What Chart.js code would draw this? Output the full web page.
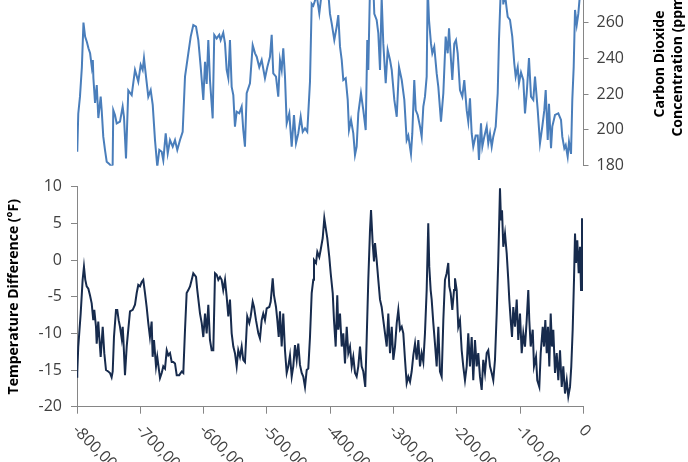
<!DOCTYPE html>
<html>
<head>
<meta charset="utf-8">
<script src="https://cdn.jsdelivr.net/npm/chart.js@4.4.1/dist/chart.umd.min.js"></script>
<style>
  html, body { margin: 0; padding: 0; background: #fff; }
  body { width: 688px; height: 462px; overflow: hidden; position: relative; }
  #co2Chart { position: absolute; left: 0; top: -80px; }
  #tempChart { position: absolute; left: 0; top: 160px; }
</style>
</head>
<body>
<canvas id="co2Chart" width="760" height="270"></canvas>
<canvas id="tempChart" width="688" height="302"></canvas>
<script>
// ── Data (years before present) ─────────────────────────────────────────────
const yearTicks = [-800000, -700000, -600000, -500000, -400000, -300000, -200000, -100000, 0];
const tempTicks = [-20, -15, -10, -5, 0, 5, 10];
const co2Ticks  = [180, 200, 220, 240, 260, 280, 300];

const co2Years = [
  -800000, -799600, -798000, -795300, -792300, -789800, -787200, -784400, -781900, -779300,
  -776600, -775000, -774100, -771500, -768800, -766300, -762600, -761000, -758500, -755800,
  -753100, -749000, -745300, -743700, -742700, -740000, -737300, -732100, -727900, -725800,
  -722600, -719000, -713600, -708400, -703200, -699400, -696300, -694200, -691000, -687400,
  -683600, -680400, -676800, -673200, -670000, -666200, -663700, -659900, -656700, -653100,
  -648800, -645200, -641600, -637300, -633100, -629400, -624200, -620400, -616300, -612000,
  -608400, -604600, -600500, -597800, -595200, -592600, -590000, -585700, -583200, -579400,
  -575300, -573100, -569000, -566200, -563600, -561000, -558400, -555700, -553100, -550500,
  -547800, -543700, -539900, -537400, -534700, -532000, -526800, -522500, -518800, -516200,
  -512100, -508300, -503100, -499400, -495200, -492500, -490000, -485700, -482100, -479400,
  -476700, -474200, -471500, -468800, -464700, -460900, -457300, -454100, -450500, -446700,
  -443500, -439900, -436300, -434700, -432000, -429300, -426800, -421400, -417300, -413000,
  -408300, -404000, -400400, -397700, -393600, -389800, -387300, -384600, -381900, -379400,
  -375600, -372400, -370400, -367200, -363600, -360900, -358300, -355700, -351500, -347800,
  -344000, -341500, -339900, -337200, -334500, -332000, -330400, -326700, -324100, -321400,
  -318800, -316200, -312400, -309300, -305600, -302900, -298800, -295000, -291400, -287100,
  -283000, -279300, -276700, -272500, -270400, -267300, -265000, -261900, -258200, -255600,
  -253000, -250400, -247700, -246100, -244000, -240900, -238800, -235700, -231900, -229300,
  -225100, -221400, -217700, -214500, -212400, -209300, -207200, -204100, -201400, -198700,
  -195100, -191400, -188300, -184500, -182000, -179300, -176600, -174100, -170300, -167100,
  -165100, -161900, -159800, -156700, -152900, -150400, -147700, -145000, -142500, -138700,
  -135500, -133500, -130300, -128000, -126700, -124100, -121500, -119700, -116100, -112500,
  -109300, -107100, -103900, -101900, -98700, -95100, -92400, -89700, -86100, -82900,
  -79300, -76600, -72300, -68700, -65100, -61900, -59700, -56500, -54500, -51300,
  -49300, -45000, -39800, -35500, -33500, -30300, -28100, -25000, -22900, -19700,
  -17700, -15500, -13400, -10700, -8200, -5500, 0
];
const co2Ppm = [
  190.6, 187.8, 209, 218.5, 235, 259.8, 252, 249, 245.5, 242.7,
  235, 239, 228.8, 215, 225, 206.6, 218.5, 211, 196.2, 188.8,
  182.2, 181, 179.4, 180.5, 211, 208.3, 203.6, 204.6, 213, 207.3,
  184, 222, 219.4, 233.4, 226.9, 236.2, 233.4, 240, 229.7, 218.5,
  222.2, 213.9, 194.3, 179.4, 188.8, 187.8, 183, 198, 186.9, 194.3,
  190.6, 194.3, 188.8, 194.3, 198.9, 229.7, 242.7, 252, 258.5, 257.6,
  250.1, 235, 216.7, 238, 225.6, 250.1, 227.8, 206.4, 253, 251,
  253, 250.1, 254.2, 248.1, 233.4, 228.8, 250.1, 224, 219.4, 201.8,
  210.1, 209.2, 213, 199.9, 190.6, 220.4, 226, 247.2, 242.7, 240.8,
  235, 239, 228.8, 235, 240.8, 253, 231.5, 229.7, 218.5, 239,
  233.4, 245.5, 229.7, 203.6, 209.2, 190.6, 208.3, 192.5, 198, 207.3,
  198.9, 200.8, 198.9, 209.2, 226.9, 270.3, 269.2, 275, 265, 278,
  283, 280, 264.7, 259.4, 250.1, 257.6, 264, 246.4, 239, 227.8,
  228.8, 216.7, 199.9, 205.5, 198, 186, 190.6, 209.2, 220.4, 211,
  199.9, 250.1, 233.4, 280, 296, 280, 264.7, 261.3, 253.9, 233.4,
  274, 248.1, 226, 244.6, 239, 233.4, 216.7, 207.3, 235, 227.8,
  216.7, 194.3, 196.8, 186.6, 198, 227.8, 211, 208.3, 201.8, 196.2,
  213, 218.5, 229.7, 280, 261.3, 248.1, 242.7, 246.4, 231.5, 224,
  204.6, 220.4, 252, 242.7, 256.7, 239, 227.8, 248.1, 250.1, 242.7,
  222.2, 218.5, 227.8, 211, 204.6, 217.6, 198, 190.6, 196.8, 196.8,
  183.2, 203.6, 190.6, 196.2, 201.8, 192.5, 198, 190.6, 196.2, 201.8,
  220.4, 250.1, 282, 287, 270, 276, 268, 263, 261.3, 252,
  237, 229.7, 235, 226, 232, 227.8, 209.2, 220.4, 240, 218.5,
  216.7, 229.7, 211, 192.5, 201.8, 211, 222.2, 194.3, 214.5, 189.7,
  201.8, 208.3, 209.2, 205.5, 196.2, 189.7, 191.5, 185, 193.4, 186.6,
  216.7, 235, 266.9, 258.5, 264.7, 276, 280
];

const tempYears = [
  -800000, -799600, -798000, -794200, -791100, -789000, -786900, -784700, -782100, -779500,
  -776800, -774300, -772700, -770000, -768900, -766400, -764800, -762600, -759400, -756900,
  -754200, -750600, -747900, -745300, -743600, -741600, -738400, -736400, -734200, -732100,
  -729400, -727800, -726900, -724200, -721500, -719000, -716300, -712000, -708400, -705700,
  -703200, -700500, -697800, -695300, -692600, -690000, -687400, -684800, -682100, -680500,
  -678400, -675200, -673200, -668900, -666200, -663700, -661000, -658300, -655800, -653100,
  -650400, -647900, -645200, -642500, -638500, -634600, -632100, -629400, -626800, -624200,
  -621500, -618800, -616300, -612000, -610000, -605700, -603000, -600500, -597800, -595200,
  -592600, -590000, -587300, -584700, -582000, -579400, -576800, -574100, -571500, -569000,
  -566200, -563600, -561000, -558400, -555700, -553100, -550500, -547800, -545300, -542600,
  -539900, -537400, -534700, -531100, -527900, -525700, -522500, -520400, -517300, -513600,
  -511000, -508300, -505800, -503100, -500400, -496300, -494100, -490900, -488900, -485700,
  -483600, -481400, -479400, -476700, -474200, -471500, -468800, -466300, -463600, -460900,
  -458400, -455700, -453000, -450500, -447800, -445100, -442600, -439900, -437200, -434700,
  -432000, -429300, -426800, -425700, -422500, -420400, -417300, -415100, -411900, -409400,
  -406700, -404700, -401500, -399300, -396100, -394100, -391400, -388900, -387300, -384600,
  -381900, -379400, -376700, -374000, -371500, -368800, -366100, -363600, -360900, -358300,
  -355700, -353000, -350400, -347800, -344700, -342500, -339900, -337200, -335600, -333000,
  -330900, -329300, -326700, -324100, -321400, -318800, -316200, -313500, -310800, -308300,
  -305600, -302900, -300400, -297700, -295000, -292500, -289800, -287100, -284600, -281900,
  -279300, -276700, -274000, -271400, -268800, -266100, -263500, -260900, -258200, -255600,
  -253000, -250400, -247700, -245200, -243600, -241400, -239800, -237200, -234600, -231900,
  -229300, -226700, -224000, -221400, -218800, -216100, -213600, -212000, -209800, -207200,
  -204500, -203000, -200300, -197800, -195100, -192400, -189900, -187200, -184500, -182000,
  -179300, -176600, -174100, -171400, -168700, -166200, -163500, -160800, -158300, -155600,
  -152900, -150400, -147700, -145000, -142500, -139800, -137100, -134600, -131900, -130300,
  -128700, -126700, -124000, -121300, -118800, -117200, -115000, -112900, -110900, -108200,
  -105500, -103000, -100300, -97600, -95100, -92400, -89700, -87200, -85600, -83400,
  -80200, -78200, -75000, -73000, -69800, -67600, -64400, -62400, -60300, -58100,
  -56100, -54000, -51800, -49800, -47700, -45000, -42300, -39800, -37100, -34400,
  -31900, -29200, -26500, -24000, -21300, -19300, -17100, -15000, -13400, -11800,
  -9800, -7600, -5500, -3900, -2400
];
const tempDiff = [
  -15.9, -15.4, -11.8, -7.3, -2.7, -0.9, -2.7, -3.6, -3.9, -4.8,
  -5.9, -8.2, -6.8, -9.1, -11.4, -8.4, -10.5, -13.2, -9.1, -12.7,
  -15.0, -15.2, -15.4, -16.0, -15.2, -10.5, -6.8, -6.8, -8.2, -9.1,
  -10.7, -9.1, -10.5, -15.7, -11.8, -9.5, -7.0, -6.8, -6.1, -4.5,
  -3.4, -3.6, -3.0, -2.7, -4.5, -6.4, -8.6, -10.5, -8.4, -13.2,
  -10.9, -14.5, -13.2, -16.1, -15.4, -14.5, -14.8, -12.3, -13.0, -12.7,
  -13.9, -13.9, -14.1, -15.7, -15.7, -15.2, -15.4, -9.5, -4.5, -4.1,
  -3.6, -2.7, -1.8, -2.3, -4.1, -7.3, -8.6, -10.5, -7.3, -10.0,
  -6.1, -10.9, -12.3, -12.3, -1.8, -2.0, -2.7, -2.3, -2.7, -4.1,
  -2.7, -5.0, -7.7, -5.4, -10.0, -11.8, -12.7, -14.5, -12.3, -13.2,
  -11.8, -13.6, -13.9, -7.7, -8.6, -7.7, -5.7, -6.4, -8.2, -10.0,
  -10.7, -8.2, -7.3, -8.2, -6.6, -6.4, -5.7, -2.5, -4.8, -6.4,
  -8.2, -10.5, -7.0, -11.8, -7.3, -12.3, -15.4, -14.5, -13.0, -15.9,
  -14.5, -11.6, -13.6, -11.4, -14.3, -15.4, -15.9, -17.3, -15.0, -14.8,
  -10.5, -4.5, -2.7, 0.0, -0.4, 1.1, 0.4, 1.4, 3.0, 5.7,
  4.1, 3.0, 0.4, -1.8, -4.5, -8.2, -11.8, -4.8, -9.5, -7.3,
  -11.8, -10.0, -14.1, -9.1, -12.7, -11.8, -14.5, -13.2, -15.4, -15.9,
  -14.5, -11.8, -14.5, -15.2, -17.3, -10.9, -2.7, 4.1, 6.8, 2.3,
  -0.2, 2.3, 0.0, -2.7, -5.4, -6.4, -8.2, -10.0, -11.8, -7.3,
  -12.7, -9.1, -13.6, -11.8, -8.6, -6.8, -9.5, -9.1, -10.0, -13.6,
  -16.8, -15.9, -16.6, -15.2, -13.0, -11.4, -13.6, -10.9, -14.5, -12.7,
  -13.9, -10.0, -4.1, 5.0, -0.9, -4.1, -5.4, -8.6, -11.4, -14.5,
  -9.1, -15.2, -15.9, -8.2, -2.7, -1.8, -0.4, -3.6, -4.5, -6.8,
  -4.1, -2.5, -4.1, -9.1, -8.2, -12.3, -14.5, -16.4, -14.5, -10.0,
  -14.5, -10.5, -16.4, -10.9, -14.5, -12.7, -15.9, -17.7, -13.6, -15.4,
  -12.7, -12.3, -14.5, -15.4, -16.4, -13.6, -7.3, 0.0, 9.8, 5.4,
  6.8, 1.8, 3.6, 0.9, -2.7, -5.4, -8.2, -10.5, -6.4, -9.1,
  -5.4, -10.9, -7.3, -12.7, -10.0, -11.8, -8.2, -4.1, -8.2, -11.8,
  -9.5, -14.5, -13.2, -16.4, -17.3, -12.7, -9.1, -11.8, -8.2, -12.7,
  -9.1, -14.5, -7.3, -11.8, -9.5, -15.4, -12.7, -16.4, -12.3, -17.3,
  -14.5, -18.2, -16.4, -18.6, -17.3, -14.5, -9.5, -2.7, 3.6, -0.4,
  2.7, -1.8, 1.8, -4.1, 5.7
];

// ── Shared styling ──────────────────────────────────────────────────────────
Chart.defaults.font.family = "'Open Sans', sans-serif";
Chart.defaults.color = '#404040';
const AXIS_GREY = '#868686';
const TICK_FONT = { size: 16 };

/** Year labels slanted downwards to the right, starting at each tick */
const slantedYearLabels = {
  id: 'slantedYearLabels',
  afterDraw(chart) {
    const { ctx, chartArea, scales: { x } } = chart;
    ctx.save();
    ctx.font = "16px 'Open Sans', sans-serif";
    ctx.fillStyle = '#404040';
    ctx.textAlign = 'left';
    ctx.textBaseline = 'middle';
    yearTicks.forEach(v => {
      ctx.save();
      ctx.translate(x.getPixelForValue(v) - 2, chartArea.bottom + 21);
      ctx.rotate(Math.PI / 4);
      ctx.fillText(v.toLocaleString('en-US'), 0, 0);
      ctx.restore();
    });
    ctx.restore();
  }
};

/** Two-line CO2 axis title, reading bottom to top */
const co2AxisTitle = {
  id: 'co2AxisTitle',
  afterDraw(chart) {
    const { ctx, chartArea } = chart;
    ctx.save();
    ctx.font = "bold 14px 'Open Sans', sans-serif";
    ctx.fillStyle = '#000';
    ctx.textAlign = 'center';
    ctx.textBaseline = 'middle';
    ctx.translate(chartArea.right + 77, 144);
    ctx.rotate(-Math.PI / 2);
    ctx.fillText('Carbon Dioxide', 0, 0);
    ctx.fillText('Concentration (ppm)', 0, 18);
    ctx.restore();
  }
};

// ── CO2 (top) ───────────────────────────────────────────────────────────────
new Chart(document.getElementById('co2Chart'), {
  type: 'line',
  data: {
    datasets: [{
      data: co2Years.map((x, i) => ({ x, y: co2Ppm[i] })),
      borderColor: '#4a7ebb',
      borderWidth: 2,
      pointRadius: 0,
      tension: 0,
    }],
  },
  options: {
    responsive: false,
    animation: false,
    layout: { padding: { left: 77, top: 30.6, right: 0, bottom: 24.3 } },
    plugins: { legend: { display: false }, tooltip: { enabled: false } },
    scales: {
      x: { type: 'linear', min: -800000, max: 0, display: false },
      y: {
        position: 'right',
        min: 180, max: 300,
        afterBuildTicks: s => { s.ticks = co2Ticks.map(value => ({ value })); },
        ticks: { font: TICK_FONT, padding: 8 },
        grid: { drawOnChartArea: false, tickLength: 5, color: AXIS_GREY },
        border: { color: AXIS_GREY },
        afterFit: s => { s.width = 176.5; },
      },
    },
  },
  plugins: [co2AxisTitle],
});

// ── Temperature (bottom) ────────────────────────────────────────────────────
new Chart(document.getElementById('tempChart'), {
  type: 'line',
  data: {
    datasets: [{
      data: tempYears.map((x, i) => ({ x, y: tempDiff[i] })),
      borderColor: '#172b4d',
      borderWidth: 2,
      pointRadius: 0,
      tension: 0,
    }],
  },
  options: {
    responsive: false,
    animation: false,
    layout: { padding: { left: 0, top: 26.7, right: 104.5, bottom: 0 } },
    plugins: { legend: { display: false }, tooltip: { enabled: false } },
    scales: {
      x: {
        type: 'linear', min: -800000, max: 0,
        afterBuildTicks: s => { s.ticks = yearTicks.map(value => ({ value })); },
        ticks: { display: false },
        grid: { drawOnChartArea: false, tickLength: 7, color: AXIS_GREY },
        border: { color: AXIS_GREY },
        afterFit: s => { s.height = 55.3; },
      },
      y: {
        min: -20, max: 10,
        afterBuildTicks: s => { s.ticks = tempTicks.map(value => ({ value })); },
        ticks: { font: TICK_FONT, padding: 9 },
        grid: { drawOnChartArea: false, tickLength: 6, color: AXIS_GREY },
        border: { color: AXIS_GREY },
        title: {
          display: true,
          text: 'Temperature Difference (°F)',
          color: '#000',
          font: { size: 14, weight: 'bold' },
          padding: { top: 6, bottom: 0 },
        },
        afterFit: s => { s.width = 77; },
      },
    },
  },
  plugins: [slantedYearLabels],
});
</script>
</body>
</html>
